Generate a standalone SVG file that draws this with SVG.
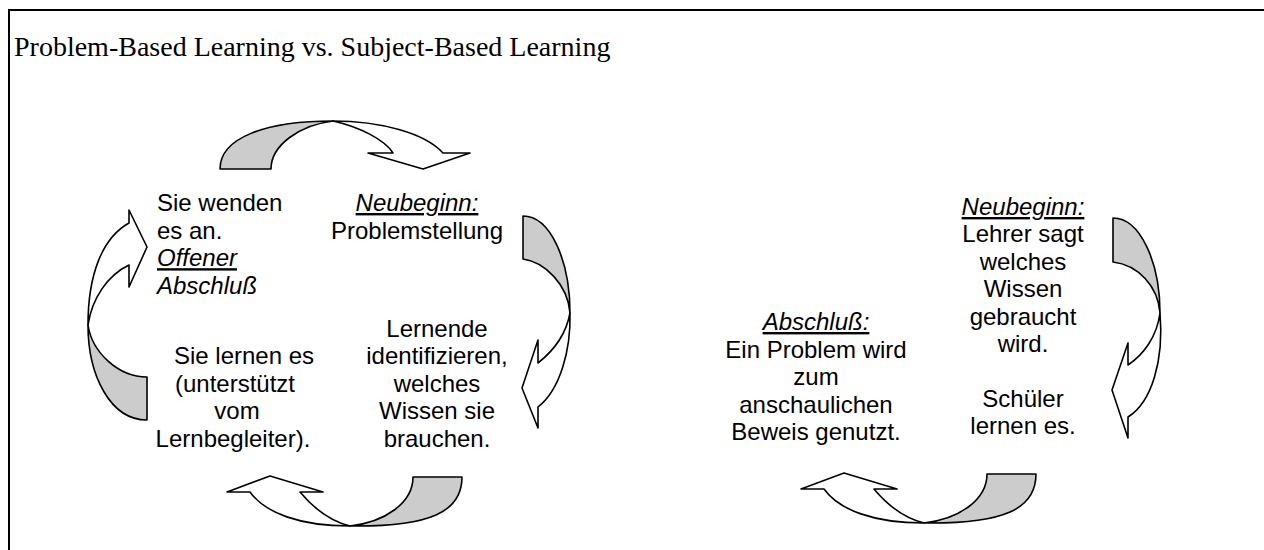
<svg xmlns="http://www.w3.org/2000/svg" width="1264" height="550" viewBox="0 0 1264 550">
<style>
.t{font-family:"Liberation Sans",Arial,sans-serif;font-size:24px;fill:#000}
.c{text-anchor:middle}
.i{font-style:italic}
.u{text-decoration:underline}
.title{font-family:"Liberation Serif","Times New Roman",serif;font-size:28px;fill:#000}
.g{fill:#cccccc;stroke:#000;stroke-width:1.6;stroke-linejoin:round}
.w{fill:#ffffff;stroke:#000;stroke-width:1.6;stroke-linejoin:round}
</style>
<rect width="1264" height="550" fill="#fff"/>
<g id="frame">
<line x1="8" y1="10" x2="1264" y2="10" stroke="#000" stroke-width="2"/>
<line x1="9" y1="9" x2="9" y2="550" stroke="#000" stroke-width="2"/>
</g>
<g id="title"><text class="title" x="14" y="56">Problem-Based Learning vs. Subject-Based Learning</text></g>

<g id="connectors">
<g id="arrow-top-left">
<path class="g" d="M220,169 C220,138 265,121 333,121 C300,125 271,145 271,169 Z"/>
<path class="w" d="M333,121 C380,121 425,133 443,153 L470,153 L423,169 L368,153 L393,153 C385,140 360,127 333,121 Z"/>
</g>
<g id="arrow-right-left">
<path class="g" d="M523,216 C550,216 570,260 570,313 C568,285 545,262 523,259 Z"/>
<path class="w" d="M570,313 C571,350 560,390 538,407 L538,428 L522,388 L538,340 L538,363 C552,352 566,335 570,313 Z"/>
</g>
<g id="arrow-bottom-left">
<path class="g" d="M462,477 C462,512 430,527 350,526 C385,522 413,503 413,477 Z"/>
<path class="w" d="M350,526 C300,526 265,513 250,492 L227,492 L270,476 L323,492 L300,492 C315,510 330,521 350,526 Z"/>
</g>
<g id="arrow-left-left">
<path class="g" d="M147,420 C110,420 88,375 88,325 C92,352 118,377 147,377 Z"/>
<path class="w" d="M88,325 C88,275 102,238 129,223 L129,210 L147,247 L129,287 L129,265 C108,275 92,298 88,325 Z"/>
</g>
<g id="arrow-right-right">
<path class="g" d="M1113,218 C1140,218 1160,262 1160,313 C1158,286 1138,265 1113,262 Z"/>
<path class="w" d="M1160,313 C1164,360 1152,402 1128,417 L1128,438 L1112,390 L1128,343 L1128,365 C1143,355 1157,337 1160,313 Z"/>
</g>
<g id="arrow-bottom-right">
<path class="g" d="M1036,474 C1036,509 1004,524 924,523 C959,519 987,500 987,474 Z"/>
<path class="w" d="M924,523 C874,523 839,510 824,489 L801,489 L844,473 L897,489 L874,489 C889,507 904,518 924,523 Z"/>
</g>
</g>

<g id="node-apply">
<text class="t" x="157" y="211">Sie wenden</text>
<text class="t" x="157" y="238.6">es an.</text>
<text class="t i u" x="157" y="266.2">Offener</text>
<text class="t i" x="157" y="293.8">Abschluß</text>
</g>
<g id="node-pbl-start">
<text class="t c i u" x="417" y="211">Neubeginn:</text>
<text class="t c" x="417" y="238.6">Problemstellung</text>
</g>
<g id="node-identify">
<text class="t c" x="437" y="336.5">Lernende</text>
<text class="t c" x="437" y="364">identifizieren,</text>
<text class="t c" x="437" y="391.6">welches</text>
<text class="t c" x="437" y="419.2">Wissen sie</text>
<text class="t c" x="437" y="446.8">brauchen.</text>
</g>
<g id="node-learn">
<text class="t c" x="244" y="364">Sie lernen es</text>
<text class="t c" x="235" y="391.6">(unterstützt</text>
<text class="t c" x="237" y="419.2">vom</text>
<text class="t c" x="233" y="446.8">Lernbegleiter).</text>
</g>
<g id="node-sbl-start">
<text class="t c i u" x="1023" y="215">Neubeginn:</text>
<text class="t c" x="1023" y="242.4">Lehrer sagt</text>
<text class="t c" x="1023" y="269.8">welches</text>
<text class="t c" x="1023" y="297.2">Wissen</text>
<text class="t c" x="1023" y="324.6">gebraucht</text>
<text class="t c" x="1023" y="352">wird.</text>
</g>
<g id="node-sbl-learn">
<text class="t c" x="1023" y="406.7">Schüler</text>
<text class="t c" x="1023" y="434">lernen es.</text>
</g>
<g id="node-sbl-end">
<text class="t c i u" x="816" y="330">Abschluß:</text>
<text class="t c" x="816" y="357.5">Ein Problem wird</text>
<text class="t c" x="816" y="385">zum</text>
<text class="t c" x="816" y="412.5">anschaulichen</text>
<text class="t c" x="816" y="440">Beweis genutzt.</text>
</g>
</svg>
